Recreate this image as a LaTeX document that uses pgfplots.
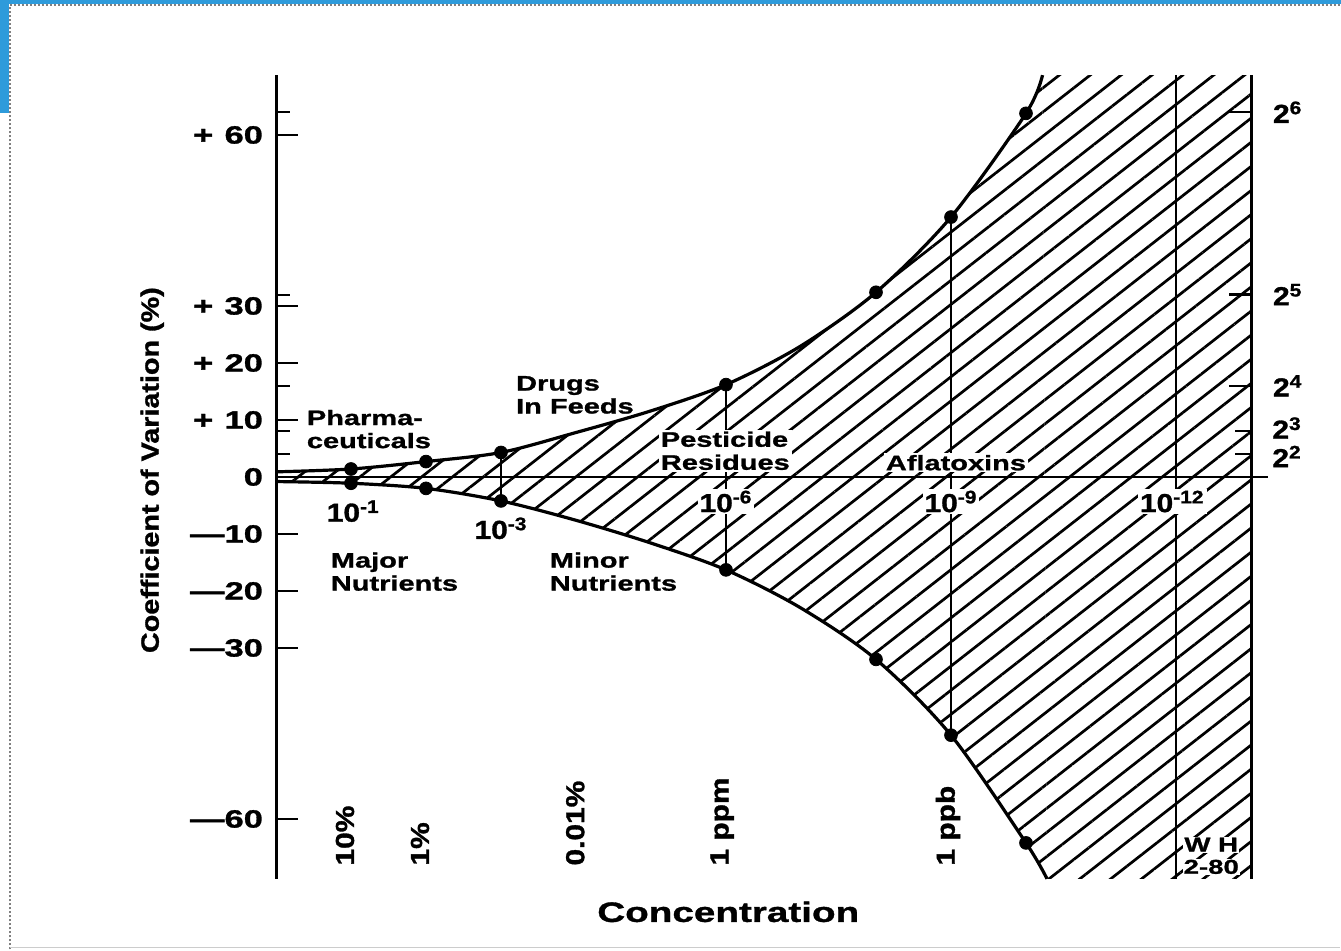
\documentclass[border=0pt]{standalone}
\usepackage{fontspec}
\setmainfont{Liberation Sans}[FakeStretch=1.15, FakeBold=1.2]
\newfontfamily\widefont{Liberation Sans}[FakeStretch=1.38, FakeBold=1.2]
\usepackage{pgfplots}
\pgfplotsset{compat=1.18}
\usepgfplotslibrary{fillbetween}
\usetikzlibrary{patterns.meta}
\definecolor{slideblue}{RGB}{46,155,219}
\newcommand{\lbl}{\widefont\bfseries\fontsize{10.5}{11.5}\selectfont}
\newcommand{\tkl}{\bfseries\fontsize{13}{15}\selectfont}
\newcommand{\ytl}{\widefont\bfseries\fontsize{12.5}{15}\selectfont}
\begin{document}
\begin{tikzpicture}
\path (0,0) rectangle (670.5pt,475.5pt);
\fill[slideblue] (0,473.5pt) rectangle (670.5pt,475.5pt);
\fill[slideblue] (0,419pt) rectangle (4.5pt,475.5pt);
\draw[gray, densely dotted, line width=1pt] (4.8pt,0.8pt) -- (4.8pt,472.8pt) -- (670pt,472.8pt);
\draw[gray!40, line width=0.5pt] (4.8pt,1.5pt) -- (670pt,1.5pt);
\begin{axis}[
  at={(138pt,36.075pt)}, anchor=south west,
  x=37.5pt, y=2.85pt,
  xmin=0, xmax=13.3, ymin=-70.5, ymax=70.5,
  set layers,
  clip=false,
  axis lines=left,
  x axis line style={draw=none},
  y axis line style={-, line width=1.5pt, black},
  xtick=\empty,
  ytick={-60,-30,-20,-10,0,10,20,30,60},
  yticklabels={—60,—30,—20,—10,0,+\hspace{0.45em}10,+\hspace{0.45em}20,+\hspace{0.45em}30,+\hspace{0.45em}60},
  yticklabel style={font=\ytl, xshift=-3pt},
  tick align=inside,
  major tick length=11pt,
  tick style={line width=1.3pt, black},
  extra y ticks={4,8,16,32,64},
  extra y tick labels={},
  extra y tick style={major tick length=7pt, tick style={line width=1pt}},
]
% curves
\addplot[name path=U, smooth, line width=1.6pt, black] coordinates {
 (0,0.9) (1,1.4) (2,2.7) (3,4.3) (4,7.8) (5,11.6) (6,16.2) (7,23) (8,32.4) (9,45.6) (10,63.8) (10.22,70.5)};
\addplot[name path=L, smooth, line width=1.6pt, black] coordinates {
 (0,-0.8) (1,-1.1) (2,-2.0) (3,-4.2) (4,-7.6) (5,-11.6) (6,-16.3) (7,-23) (8,-32) (9,-45.3) (10,-64.2) (10.28,-70.5)};
\addplot[pattern={Lines[angle=38,distance=9.5pt,line width=1.35pt]}, draw=none] fill between[of=U and L];
\addplot[pattern={Lines[angle=38,distance=9.5pt,line width=1.35pt]}, draw=none, on layer=pre main] coordinates {
 (10.22,70.5) (13,70.5) (13,-70.5) (10.28,-70.5) (10.22,70.5)};
% zero line and verticals
\addplot[black, line width=1.3pt] coordinates {(0,0) (13.23,0)};
\addplot[black, line width=1.2pt] coordinates {(3,4.3) (3,-4.2)};
\addplot[black, line width=1.2pt] coordinates {(6,16.2) (6,-16.3)};
\addplot[black, line width=1.2pt] coordinates {(9,45.6) (9,-45.3)};
\addplot[black, line width=1.3pt] coordinates {(12,70.5) (12,-70.5)};
\addplot[black, line width=1.5pt] coordinates {(13,70.5) (13,-70.5)};
% right ticks
\draw[line width=1.1pt] (axis cs:13,64) -- ([xshift=-11pt]axis cs:13,64);
\draw[line width=1.1pt] (axis cs:13,32) -- ([xshift=-11pt]axis cs:13,32);
\draw[line width=1.1pt] (axis cs:13,16) -- ([xshift=-11pt]axis cs:13,16);
\draw[line width=1.1pt] (axis cs:13,8) -- ([xshift=-8pt]axis cs:13,8);
\draw[line width=1.1pt] (axis cs:13,4) -- ([xshift=-8pt]axis cs:13,4);
\node[anchor=west, font=\tkl] at (axis cs:13.2,64) {2\textsuperscript{6}};
\node[anchor=west, font=\tkl] at (axis cs:13.2,32) {2\textsuperscript{5}};
\node[anchor=west, font=\tkl] at (axis cs:13.2,16) {2\textsuperscript{4}};
\node[anchor=west, font=\tkl, inner sep=0pt] at (axis cs:13.28,8.6) {2\textsuperscript{3}};
\node[anchor=west, font=\tkl, inner sep=0pt] at (axis cs:13.28,3.6) {2\textsuperscript{2}};
% data points
\addplot[only marks, mark=*, mark size=3.2pt, black] coordinates {
 (1,1.4) (2,2.7) (3,4.3) (6,16.2) (8,32.4) (9,45.6) (10,63.8)
 (1,-1.1) (2,-2.0) (3,-4.2) (6,-16.3) (8,-32) (9,-45.3) (10,-64.2)};
% labels
\node[anchor=west, align=left, font=\lbl, inner sep=1pt] at (axis cs:0.38,8.4) {Pharma-\\ceuticals};
\node[anchor=west, align=left, font=\lbl, inner sep=1pt] at (axis cs:3.17,14.4) {Drugs\\In Feeds};
\node[anchor=west, align=left, font=\lbl, inner sep=1pt, fill=white] at (axis cs:5.1,4.6) {Pesticide\\Residues};
\node[anchor=west, align=left, font=\lbl, inner sep=1pt, fill=white] at (axis cs:8.1,2.5) {Aflatoxins};
\node[anchor=west, align=left, font=\lbl, inner sep=1pt] at (axis cs:0.7,-16.6) {Major\\Nutrients};
\node[anchor=west, align=left, font=\lbl, inner sep=1pt] at (axis cs:3.62,-16.6) {Minor\\Nutrients};
\node[font=\tkl, inner sep=1pt] at (axis cs:1.03,-6.0) {10\textsuperscript{-1}};
\node[font=\tkl, inner sep=1pt] at (axis cs:3.0,-9.0) {10\textsuperscript{-3}};
\node[font=\tkl, inner sep=1pt, fill=white] at (axis cs:6.0,-4.3) {10\textsuperscript{-6}};
\node[font=\tkl, inner sep=1pt, fill=white] at (axis cs:9.0,-4.3) {10\textsuperscript{-9}};
\node[font=\tkl, inner sep=1pt, fill=white] at (axis cs:11.95,-4.3) {10\textsuperscript{-12}};
% bottom rotated labels
\node[rotate=90, anchor=west, font=\tkl] at (axis cs:0.92,-69.4) {10\%};
\node[rotate=90, anchor=west, font=\tkl] at (axis cs:1.92,-69.4) {1\%};
\node[rotate=90, anchor=west, font=\tkl] at (axis cs:3.99,-69.4) {0.01\%};
\node[rotate=90, anchor=west, font=\tkl] at (axis cs:5.95,-69.4) {1 ppm};
\node[rotate=90, anchor=west, font=\tkl] at (axis cs:8.96,-69.4) {1 ppb};
\node[font=\widefont\bfseries\fontsize{10}{11}\selectfont, fill=white, inner sep=0.5pt] at (axis cs:12.47,-64.5) {W H};
\node[font=\widefont\bfseries\fontsize{10}{11}\selectfont, fill=white, inner sep=0.5pt] at (axis cs:12.47,-68.4) {2-80};
% axis titles
\node[rotate=90, font=\bfseries\fontsize{12.5}{14}\selectfont] at (axis cs:-1.65,1.2) {Coefficient of Variation (\%)};
\node[font=\widefont\bfseries\fontsize{14}{16}\selectfont] at (axis cs:6.03,-76.3) {Concentration};
\end{axis}
\end{tikzpicture}
\end{document}
